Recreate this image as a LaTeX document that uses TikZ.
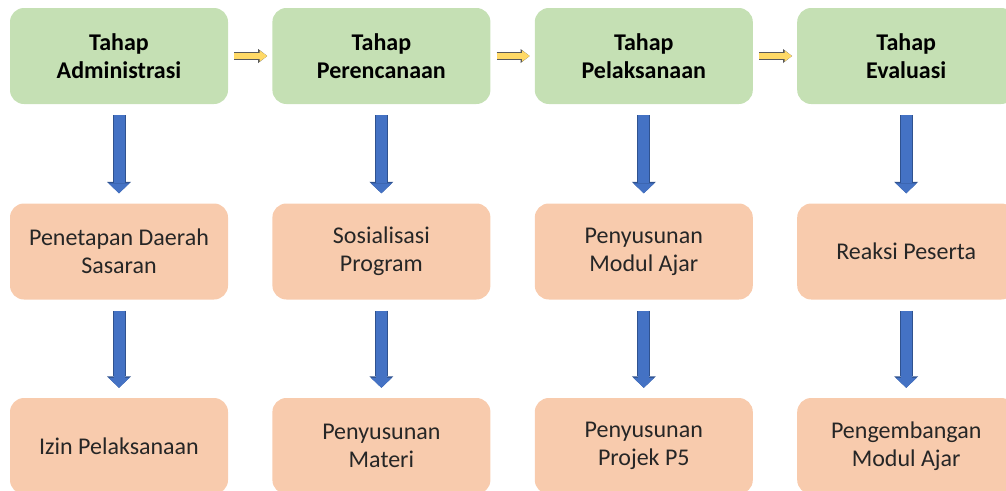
\documentclass[tikz,border=0pt]{standalone}
\usepackage{fontspec}
\setmainfont{Carlito}
\usetikzlibrary{arrows.meta, positioning}
\definecolor{tahapgreen}{HTML}{C5E0B4}
\definecolor{kegpeach}{HTML}{F8CBAD}
\definecolor{arrblue}{HTML}{4472C4}
\definecolor{arrblueline}{HTML}{2F528F}
\definecolor{arryellow}{HTML}{FFD966}
\definecolor{arrgray}{HTML}{595959}
\tikzset{
  tahap/.style={fill=tahapgreen, rounded corners=14pt, minimum width=218pt,
                minimum height=96pt, align=center, text=black,
                font=\fontsize{24}{28}\selectfont\bfseries},
  kegiatan/.style={fill=kegpeach, rounded corners=14pt, minimum width=218pt,
                minimum height=96pt, align=center, text=black!85,
                font=\fontsize{24}{28}\selectfont},
  turun/.style={draw=arrblue, line width=11pt, shorten <=11pt, shorten >=10pt,
                -{Triangle[width=21pt,length=10pt,line width=0pt]},
                preaction={draw=arrblueline, line width=13pt,
                -{Triangle[width=24pt,length=11.5pt,line width=0pt]}}},
  lanjut/.style={draw=arryellow, line width=5.5pt, shorten <=6pt, shorten >=5pt,
                -{Triangle[width=11pt,length=7.5pt,line width=0pt]},
                preaction={draw=arrgray, line width=7.5pt,
                -{Triangle[width=14pt,length=9pt,line width=0pt]}}},
}

\begin{document}
\begin{tikzpicture}[x=1pt, y=-1pt]
  \useasboundingbox (0,0) rectangle (1006,490);
  \foreach \i/\n/\a/\b/\c in {0/adm/{Tahap\\Administrasi}/{Penetapan Daerah\\Sasaran}/{Izin Pelaksanaan},
                             1/ren/{Tahap\\Perencanaan}/{Sosialisasi\\Program}/{Penyusunan\\Materi},
                             2/pel/{Tahap\\Pelaksanaan}/{Penyusunan\\Modul Ajar}/{Penyusunan\\Projek P5},
                             3/eva/{Tahap\\Evaluasi}/{Reaksi Peserta}/{Pengembangan\\Modul Ajar}}{
    \node[tahap] (\n1) at (119+\i*262.4,56) {\a};
    \node[kegiatan] (\n2) at (119+\i*262.4,251.5) {\b};
    \node[kegiatan] (\n3) at (119+\i*262.4,446) {\c};
    \draw[turun] (\n1) -- (\n2);
    \draw[turun] (\n2) -- (\n3);
  }
  \draw[lanjut] (adm1) -- (ren1);
  \draw[lanjut] (ren1) -- (pel1);
  \draw[lanjut] (pel1) -- (eva1);
\end{tikzpicture}
\end{document}
